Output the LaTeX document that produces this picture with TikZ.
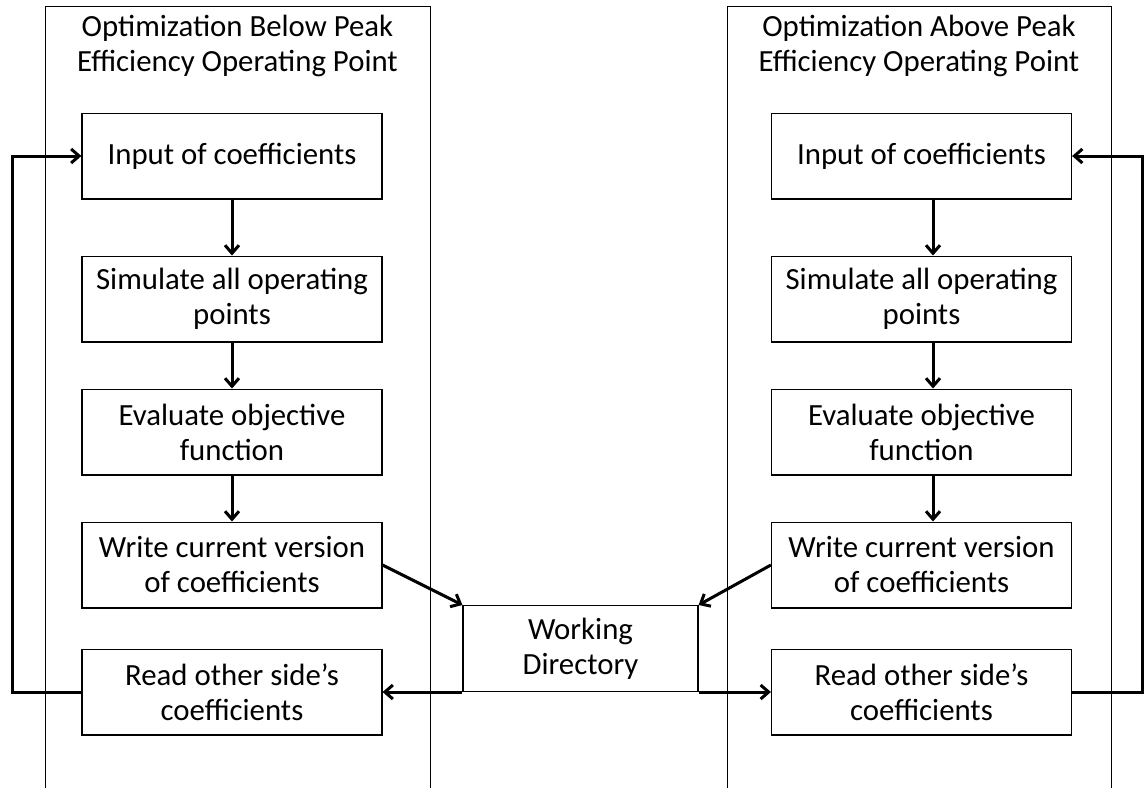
\documentclass[tikz,border=0pt]{standalone}
\usepackage{fontspec}
\setmainfont{Carlito}
\usetikzlibrary {positioning}
\usetikzlibrary {arrows.meta}
\tikzset{
stepbox/.style={rectangle,minimum height=42.9pt,minimum width=150pt,draw=black,line width=0.6pt,align=center,inner sep=2pt}
}
\tikzset{
dirbox/.style={rectangle,minimum height=42.9pt,minimum width=117.5pt,draw=black,line width=0.6pt,align=center,inner sep=2pt}
}
\tikzset{
flow/.style={line width=1.5pt,-{Straight Barb[length=4pt,width=7pt]}}
}
\tikzset{
panel/.style={draw=black,line width=0.5pt}
}

\begin{document}
\begin{tikzpicture}[x=0.5pt,y=-0.5pt,font=\fontsize{15.4pt}{17.5pt}\selectfont]
\useasboundingbox (0,0) rectangle (1144,788);

%------------------------------------------------------------------------------------------------------------%
% below peak
\draw[panel] (45,788) -- (45,6) -- (430,6) -- (430,788);
\node[align=center] (LT) at (237.5,45.5) {Optimization Below Peak\\Efficiency Operating Point};
\node[stepbox] (L1) at (232,156) {Input of coefficients};
\node[stepbox,below=28pt of L1] (L2) {Simulate all operating\\points};
\node[stepbox,below=23pt of L2] (L3) {Evaluate objective\\function};
\node[stepbox,below=23pt of L3] (L4) {Write current version\\of coefficients};
\node[stepbox,below=20pt of L4] (L5) {Read other side's\\coefficients};

%------------------------------------------------------------------------------------------------------------%
% above peak
\draw[panel] (727,788) -- (727,6) -- (1111,6) -- (1111,788);
\node[align=center] (RT) at (919,45.5) {Optimization Above Peak\\Efficiency Operating Point};
\node[stepbox] (R1) at (921.5,156) {Input of coefficients};
\node[stepbox,below=28pt of R1] (R2) {Simulate all operating\\points};
\node[stepbox,below=23pt of R2] (R3) {Evaluate objective\\function};
\node[stepbox,below=23pt of R3] (R4) {Write current version\\of coefficients};
\node[stepbox,below=20pt of R4] (R5) {Read other side's\\coefficients};

\node[dirbox] (WD) at (580.5,648.5) {Working\\Directory};

\coordinate (LL) at (12,0);
\coordinate (RL) at (1142,0);

\foreach \i/\j in {1/2,2/3,3/4}
{
\draw[flow] (L\i.south) -- (L\j.north);
\draw[flow] ([xshift=5.75pt]R\i.south) -- ([xshift=5.75pt]R\j.north);
}

\draw[flow] (L4.east) -- (WD.north west);
\draw[flow] (R4.west) -- (WD.north east);
\draw[flow] (WD.south west) -- (L5.east);
\draw[flow] (WD.south east) -- (R5.west);
\draw[flow] (L5.west) -- (L5.west -| LL) |- (L1.west);
\draw[flow] (R5.east) -- (R5.east -| RL) |- (R1.east);
%\draw[dashed] (WD.south) -- ++(0,40);

\end{tikzpicture}
\end{document}
